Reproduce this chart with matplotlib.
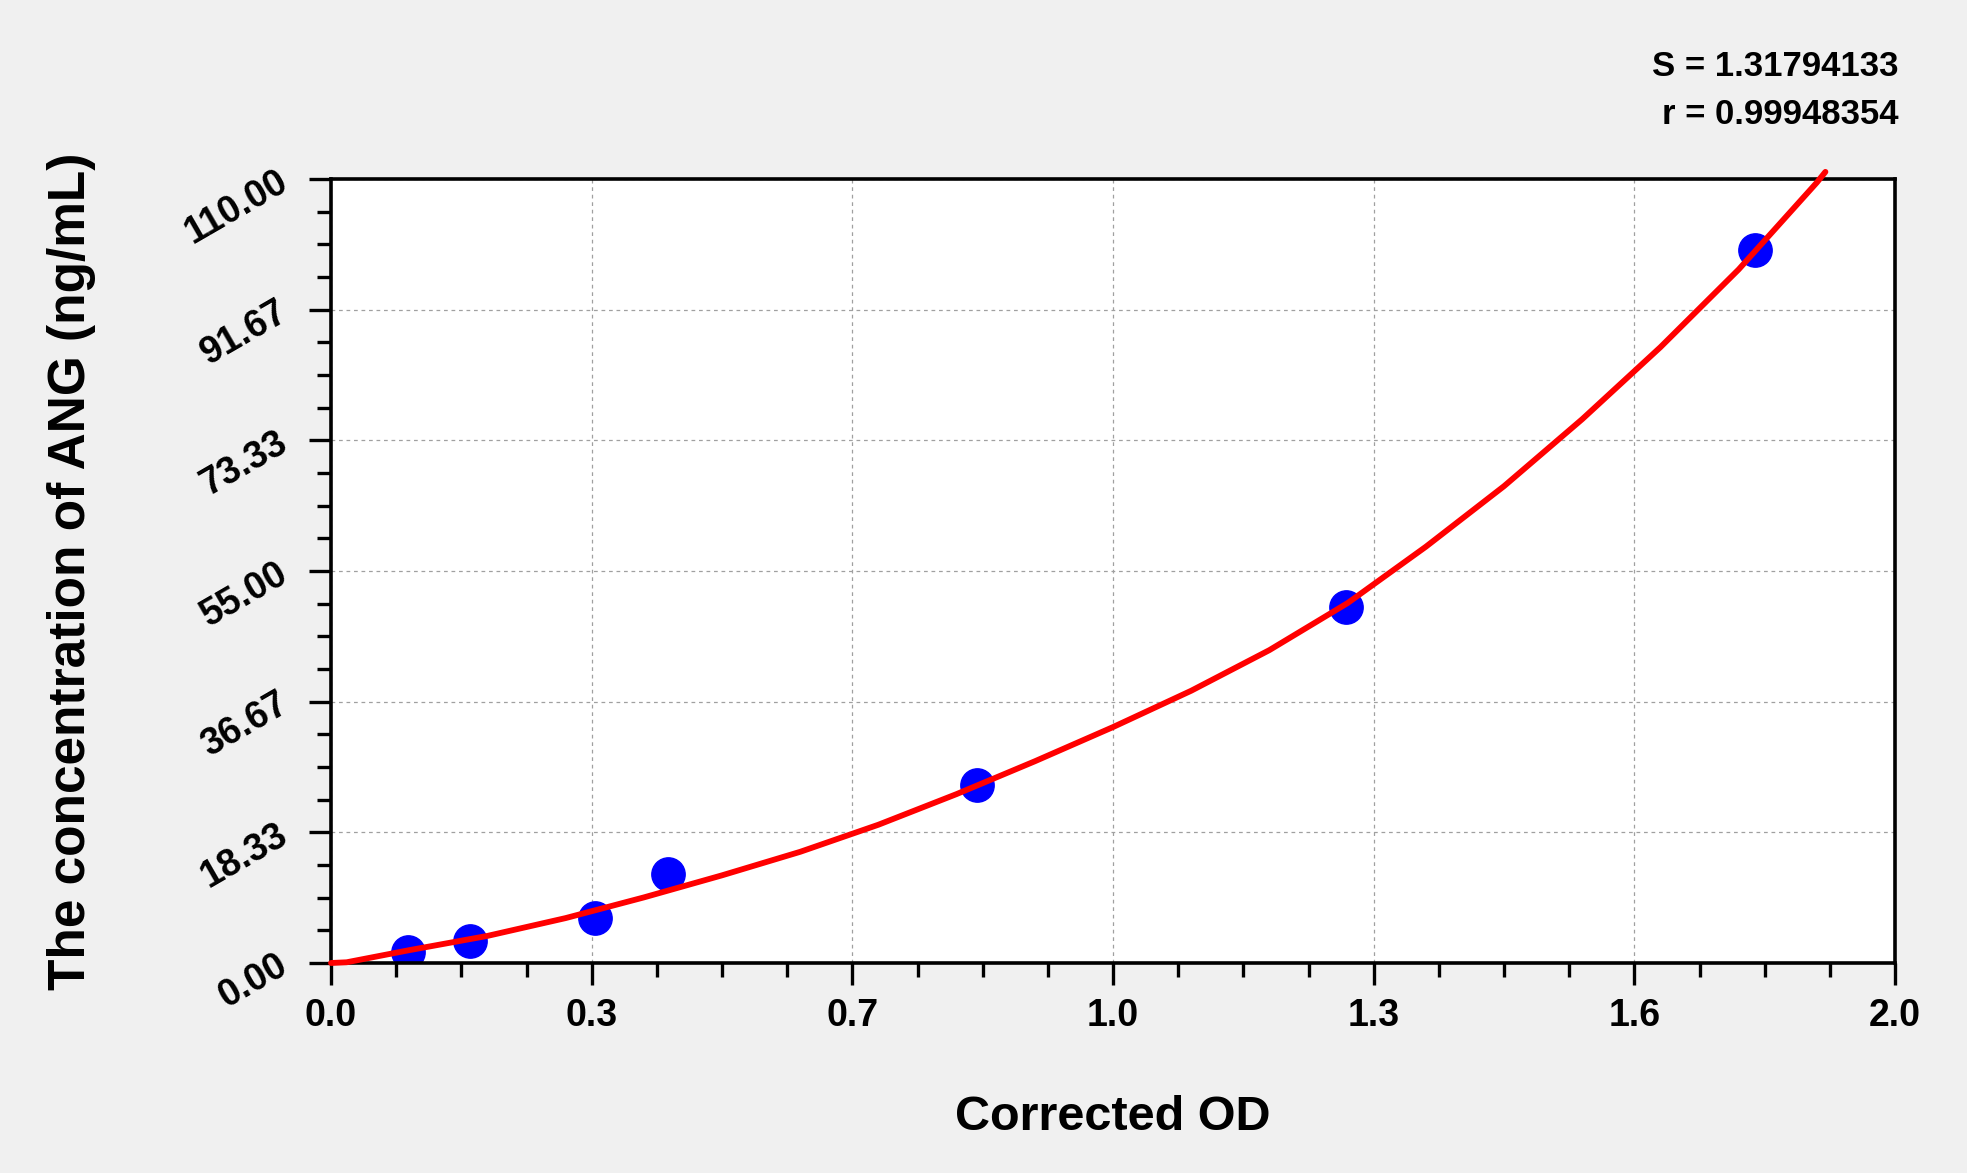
"""
Standard curve for ANG ELISA
"""

import matplotlib
matplotlib.use('Agg')
import matplotlib.pyplot as plt
from matplotlib.ticker import AutoMinorLocator

# standards (corrected OD vs concentration)
od_values = [0.098, 0.178, 0.337, 0.431, 0.826, 1.298, 1.821]
conc_values = [1.5625, 3.125, 6.25, 12.5, 25.0, 50.0, 100.0]

# fitted curve
curve_od = [0.0, 0.02, 0.1, 0.2, 0.3, 0.4, 0.5, 0.6, 0.7, 0.8, 0.9, 1.0,
            1.1, 1.2, 1.3, 1.4, 1.5, 1.6, 1.7, 1.8, 1.9, 1.911]
curve_conc = [0.0, 0.1, 1.8, 3.8, 6.3, 9.2, 12.3, 15.6, 19.4, 23.7, 28.3, 33.1,
              38.2, 43.9, 50.5, 58.4, 66.9, 76.3, 86.4, 97.3, 109.5, 111.0]

x_ticks = [0.0, 1/3, 2/3, 1.0, 4/3, 5/3, 2.0]
x_tick_labels = ['0.0', '0.3', '0.7', '1.0', '1.3', '1.6', '2.0']
y_ticks = [0.0, 110/6, 220/6, 55.0, 440/6, 550/6, 110.0]
y_tick_labels = ['0.00', '18.33', '36.67', '55.00', '73.33', '91.67', '110.00']

fit_text = ['S = 1.31794133', 'r = 0.99948354']

plt.rcParams['font.family'] = ['Liberation Sans', 'DejaVu Sans']
plt.rcParams['font.weight'] = 'bold'

W, H = 1967, 1173
fig = plt.figure(figsize=(W / 100, H / 100), dpi=100, facecolor='#f0f0f0')
ax = fig.add_axes([331 / W, 1 - 963 / H, (1895 - 331) / W, (963 - 179) / H])
ax.set_facecolor('white')

ax.plot(curve_od, curve_conc, color='#ff0000', lw=4.2, clip_on=False,
        solid_capstyle='round', solid_joinstyle='round', zorder=3)
ax.plot(od_values, conc_values, 'o', color='#0000ff', ms=24, zorder=2)

ax.set_xlim(0, 2.0)
ax.set_ylim(0, 110)
ax.set_xticks(x_ticks)
ax.set_xticklabels(x_tick_labels, fontsize=27, fontweight='bold')
ax.set_yticks(y_ticks)
ax.set_yticklabels(y_tick_labels, fontsize=27, fontweight='bold',
                   rotation=30, rotation_mode='anchor', ha='right', va='center')
ax.xaxis.set_minor_locator(AutoMinorLocator(4))
ax.yaxis.set_minor_locator(AutoMinorLocator(4))

ax.tick_params(which='major', length=16, width=2.4, direction='out')
ax.tick_params(which='minor', length=10, width=2.4, direction='out')
ax.tick_params(axis='x', pad=9)
ax.tick_params(axis='y', pad=17)

for sp in ax.spines.values():
    sp.set_linewidth(2.6)

ax.grid(True, which='major', color='#a0a0a0', linestyle=(0, (3, 3)), lw=0.9)
ax.set_axisbelow(True)

ax.set_xlabel('Corrected OD', fontsize=35, fontweight='bold', labelpad=44)
fig.text(72 / W, 1 - 571 / H, 'The concentration of ANG (ng/mL)',
         rotation=90, ha='center', va='center', fontsize=37, fontweight='bold')

fig.text(1898 / W, 1 - 66 / H, fit_text[0], ha='right', va='center',
         fontsize=25, fontweight='bold')
fig.text(1898 / W, 1 - 115 / H, fit_text[1], ha='right', va='center',
         fontsize=25, fontweight='bold')

fig.savefig('out.png', dpi=100, facecolor=fig.get_facecolor())
